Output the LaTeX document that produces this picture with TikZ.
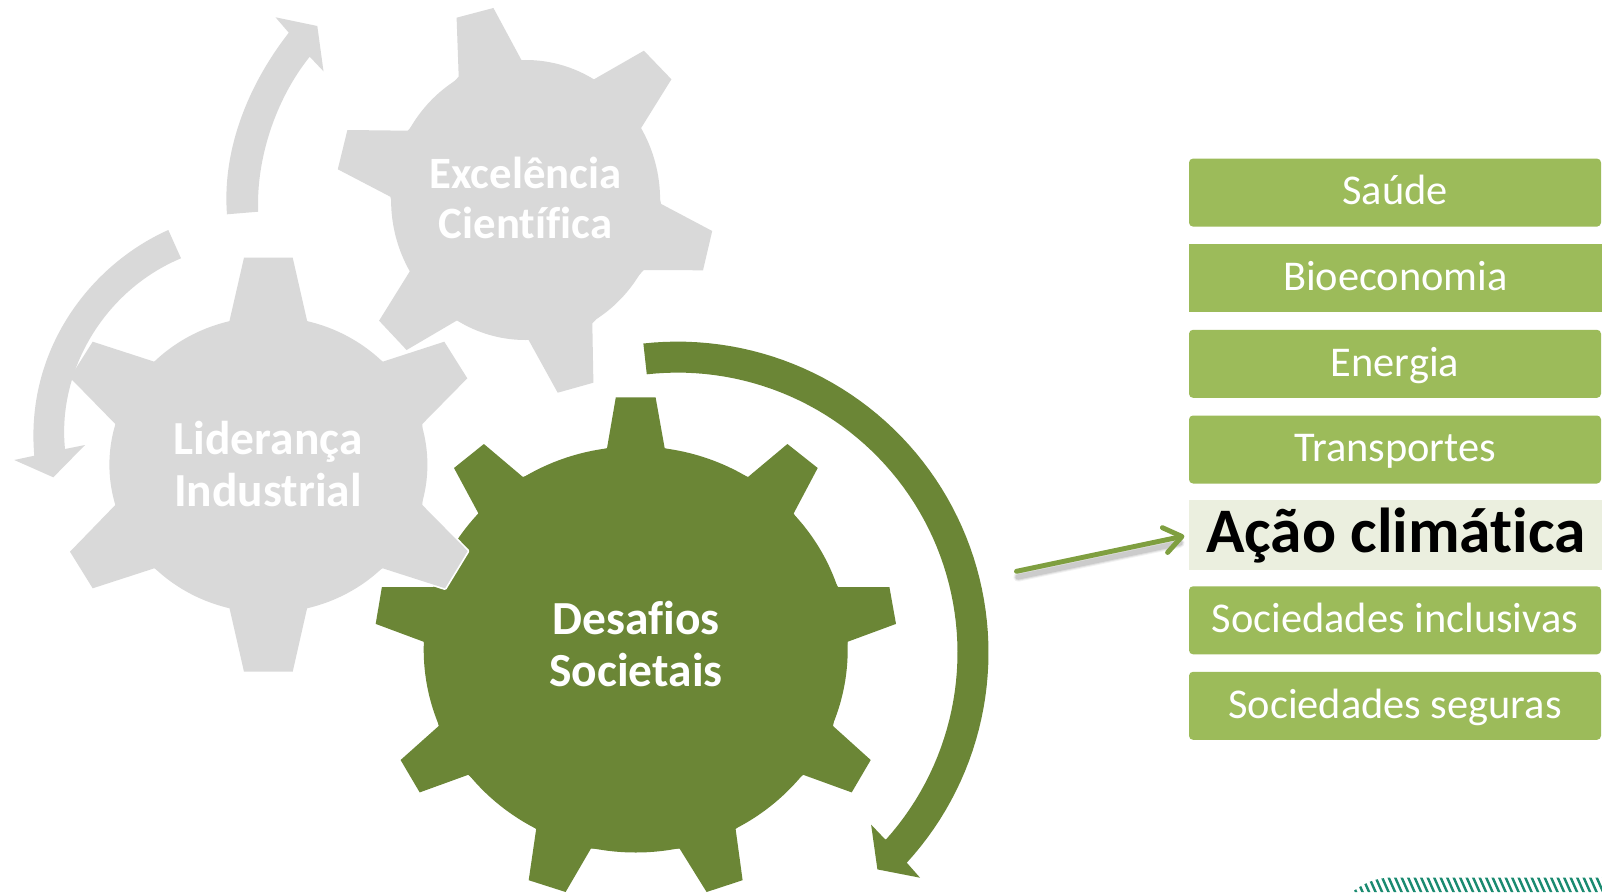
\documentclass[tikz,border=0pt]{standalone}
\usepackage{fontspec}
\setmainfont[Ligatures=CommonOff]{Carlito}
\usetikzlibrary{arrows.meta}
\definecolor{gearGrey}{HTML}{D9D9D9}
\definecolor{gearGreen}{HTML}{6B8636}
\definecolor{boxGreen}{HTML}{9CBB5A}
\definecolor{paleGreen}{HTML}{EBEFDF}
\definecolor{arrowGreen}{HTML}{7F9F40}
\definecolor{hatchTeal}{HTML}{1A8A70}
\tikzset{
  geartext/.style={text=white,align=center,inner sep=0pt,font=\bfseries\fontsize{35.6}{38.4}\selectfont},
  topicbox/.style={fill=boxGreen,rounded corners=3pt,minimum width=309pt,minimum height=51pt,inner sep=0pt,text=white,text height=18.5pt,text depth=0pt,font=\fontsize{31.8}{34}\selectfont},
  squarebox/.style={topicbox,rounded corners=0pt,minimum width=310pt},
  activebox/.style={fill=paleGreen,minimum width=310pt,minimum height=52.5pt,inner sep=0pt,text=black,text height=26.5pt,text depth=0pt,font=\bfseries\fontsize{47.6}{50}\selectfont},
  halo/.style={draw=white,line width=2.6pt,line join=round},
  pointer/.style={line width=3.7pt,line cap=round,line join=round,shorten >=3.6pt,-{Straight Barb[length=13pt,width=19pt,round]}}
}
\newcommand{\bodyLid}{(268.4,464.7) ellipse [x radius=159,y radius=148]}
\newcommand{\teethLid}{(244,257.7)--(292.7,257.7)--(307.3,321.7)--(382.7,361.7)--(444.3,341.7)--(467.3,378.3)--(422.3,424)--(422.3,505)--(467.7,551)--(445,588.3)--(382.7,568.3)--(307.3,607.3)--(292.7,671.7)--(244,671.7)--(229.3,607.3)--(154.3,568.3)--(92.7,588.3)--(70,551.7)--(115.3,505)--(115.3,424)--(70,377.7)--(92.7,341.7)--(154.3,361.7)--(229.3,321.7)--cycle}
\newcommand{\bodyExc}{(525.6,200) ellipse [x radius=134.5,y radius=140]}
\newcommand{\teethExc}{(458.7,76.7)--(456.6,17.7)--(493.4,8)--(521.4,60)--(592.3,80.3)--(643.9,50.7)--(671.4,79.3)--(640.3,129.3)--(661.2,204)--(712.2,231)--(703,270.3)--(643.9,270)--(592.3,323.3)--(593.4,382.7)--(557.7,392.7)--(528.6,340)--(457.7,320)--(406.6,350)--(379.1,320.7)--(410.2,270.7)--(390.3,196.7)--(337.8,169.3)--(347.4,130)--(407.7,130.7)--cycle}
\begin{document}
\begin{tikzpicture}[x=0.75pt,y=-0.75pt]
\useasboundingbox (0,0) rectangle (1602,892);
\fill[white] (0,0) rectangle (1602,892);

% Desafios gear
\fill[gearGreen] (635.7,649.5) ellipse [x radius=212,y radius=203];
\fill[gearGreen] (615.8,397.4)--(655.6,397.4)--(664.7,448.3)--(748,477)--(787.4,444)--(817.7,468)--(793.6,513.5)--(838,587)--(889.4,587)--(896,623.9)--(847.5,641.8)--(833,726)--(870.7,760)--(851.7,792.4)--(803.2,774.8)--(735.6,828.9)--(742.6,880.2)--(706.6,892)--(679.6,848.6)--(590.9,848.6)--(565.6,892)--(528.7,880.2)--(536.2,828.9)--(468.2,774.8)--(419.7,792.4)--(400.6,760)--(438.7,726)--(423.8,641.8)--(375.7,623.9)--(381.9,587)--(433.3,587)--(478.5,513.5)--(454,468)--(483.9,444)--(522.9,477)--(607,448.3)--cycle;

% Lideranca gear
\draw[halo] \bodyLid; \draw[halo] \teethLid;
\fill[gearGrey] \bodyLid; \fill[gearGrey] \teethLid;

% Excelencia gear
\draw[halo] \bodyExc; \draw[halo] \teethExc;
\fill[gearGrey] \bodyExc; \fill[gearGrey] \teethExc;

% Grey cycle arrows
\fill[gearGrey] (227,214.3) .. controls (222,150) and (248,85) .. (288.8,32.7)
  -- (275.5,17.3) -- (317.3,26) -- (323.5,71.3) -- (309.7,56.7)
  .. controls (275,100) and (256,160) .. (258.2,211.7) -- cycle;
\fill[gearGrey] (181,258.3) .. controls (105,290) and (57,370) .. (65,449)
  -- (85,445) -- (53.3,477.3) -- (14.3,460) -- (34.3,455.7)
  .. controls (25,350) and (90,265) .. (168.3,230) -- cycle;

% Green cycle arrow
\fill[gearGreen] plot[domain=-96.3:42.5,samples=70] ({677.5+311*cos(\x)},{652.6+311*sin(\x)})
  -- (920,877.7) -- (877.4,869.4) -- (871.1,824.6) -- (884.8,839)
  -- plot[domain=41.9:-96.3,samples=70] ({677.5+280*cos(\x)},{652.6+280*sin(\x)}) -- cycle;

% Gear labels
\node[geartext,font=\bfseries\fontsize{33.6}{37.5}\selectfont] (exc) at (525.5,198) {Excelência\\Científica};
\node[geartext] (lid) at (268,464) {Liderança\\Industrial};
\node[geartext] (des) at (636,644) {Desafios\\Societais};

% Topic boxes
\node[topicbox] (saude) at (1395,192.6) {Saúde};
\node[squarebox] (bio) at (1395.5,277.8) {Bioeconomia};
\node[topicbox] (energia) at (1395,363.8) {Energia};
\node[topicbox] (transp) at (1395,449.5) {Transportes};
\node[activebox] (acao) at (1396,535) {Ação climática};
\node[topicbox] (incl) at (1395,620.3) {Sociedades inclusivas};
\node[topicbox] (seg) at (1395,705.8) {Sociedades seguras};

% Pointer with soft shadow
\coordinate (ptrstart) at (1016.5,571.3);
\coordinate (ptrstartS) at (1018,577);
\coordinate (ptrendS) at (1180,543);
\foreach \w/\o in {7pt/0.05,5.5pt/0.07,4pt/0.09} {
  \draw[line width=\w,black,opacity=\o,line cap=round] (ptrstartS) -- (ptrendS);
}
\draw[pointer,arrowGreen] (ptrstart) -- (acao.west);

% Hatched corner
\begin{scope}
\clip (1352,892) .. controls (1362,885) and (1372,878) .. (1392,877.5) -- (1602,877.5) -- (1602,892) -- cycle;
\foreach \k in {0,...,44} {
  \draw[hatchTeal,line width=1.8pt] ({1336+6.5*\k},876) -- ({1343.5+6.5*\k},893);
}
\end{scope}
\end{tikzpicture}
\end{document}
